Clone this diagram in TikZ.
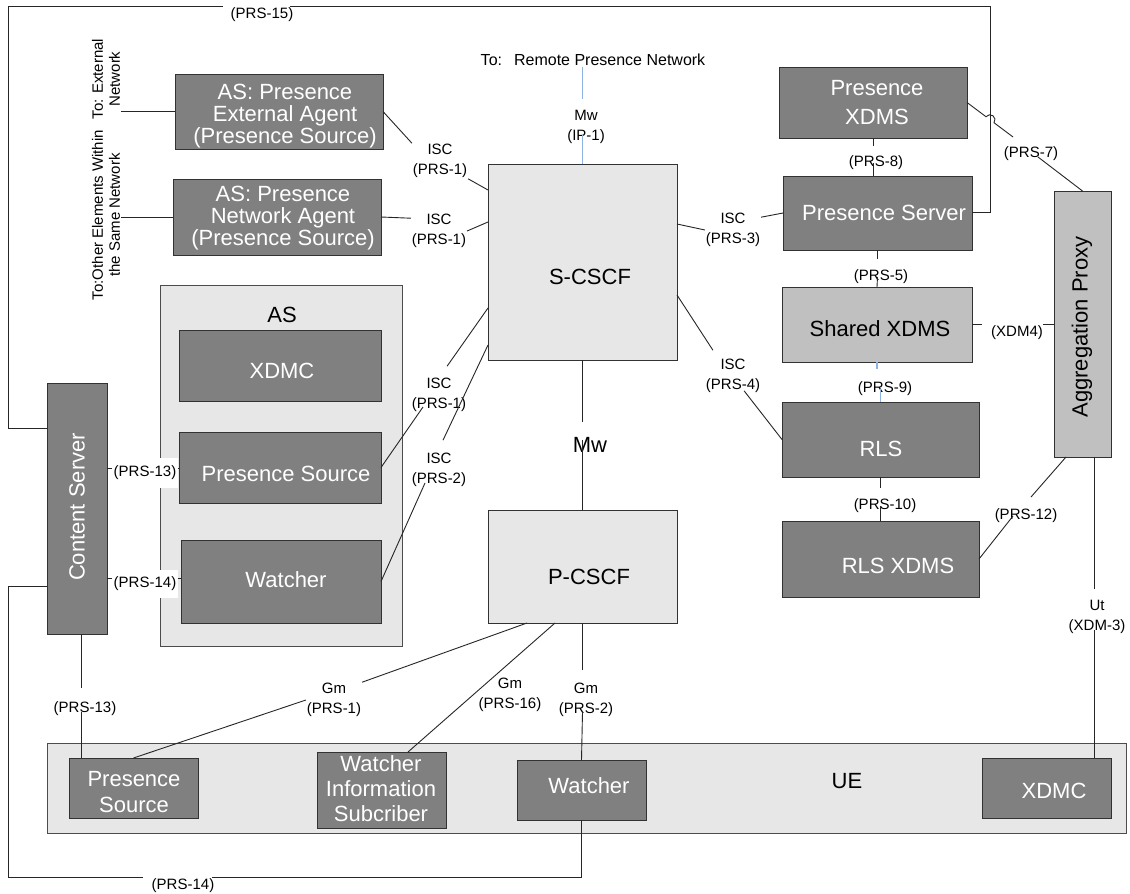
\documentclass[tikz,border=0pt]{standalone}
\usepackage{fontspec}
\setmainfont{Liberation Sans}
\usetikzlibrary{calc}
\definecolor{dk}{RGB}{128,128,128}
\definecolor{lt}{RGB}{231,231,231}
\definecolor{md}{RGB}{192,192,192}
\definecolor{bl}{RGB}{141,179,226}
\definecolor{edge}{RGB}{50,50,50}
\newcommand{\fbig}{\fontsize{22}{22}\selectfont}
\newcommand{\fsm}{\fontsize{15}{20}\selectfont}
\newcommand{\mkbox}[6]{\node[#2, minimum width={(#5)-(#3)}, minimum height={(#6)-(#4)}] (#1) at ({((#3)+(#5))/2},{((#4)+(#6))/2}) {};}
\begin{document}
\begin{tikzpicture}[x=1pt,y=-1pt,
  every node/.style={inner sep=0pt, outer sep=0pt},
  dkbox/.style={draw=edge, line width=1pt, fill=dk},
  ltbox/.style={draw=edge, line width=1pt, fill=lt},
  mdbox/.style={draw=edge, line width=1pt, fill=md},
  cont/.style={draw=black!70, line width=1pt, fill=lt},
  wt/.style={text=white, font=\fbig, align=center},
  bt/.style={text=black, font=\fbig, align=center},
  lbl/.style={font=\fsm, align=center, inner sep=1pt},
  ln/.style={draw=black!85, line width=0.9pt},
  bln/.style={draw=bl, line width=1.2pt},
]
\fill[white] (0,0) rectangle (1130,894);
\useasboundingbox (0,0) rectangle (1130,894);

% containers
\mkbox{as}{cont}{160}{285}{402}{646}
\mkbox{ue}{cont}{47}{743}{1126}{833}
% boxes
\mkbox{extag}{dkbox}{175}{74}{383}{149}
\mkbox{netag}{dkbox}{173}{179}{381}{255}
\mkbox{axdmc}{dkbox}{179}{330}{381}{401}
\mkbox{asps}{dkbox}{179}{432}{381}{503}
\mkbox{awatch}{dkbox}{181}{540}{381}{623}
\mkbox{cs}{dkbox}{47}{383}{107}{634}
\mkbox{scscf}{ltbox}{488}{164}{677}{360}
\mkbox{pcscf}{ltbox}{488}{510}{677}{623}
\mkbox{pxdms}{dkbox}{779}{67}{967}{138}
\mkbox{psrv}{dkbox}{783}{176}{972}{250}
\mkbox{shxdms}{mdbox}{782}{287}{972}{362}
\mkbox{rls}{dkbox}{782}{402}{979}{477}
\mkbox{rlsx}{dkbox}{782}{521}{979}{597}
\mkbox{agg}{mdbox}{1054}{191}{1111}{457}
\mkbox{ups}{dkbox}{69}{758}{198}{818}
\mkbox{wis}{dkbox}{317}{752}{446}{828}
\mkbox{uwatch}{dkbox}{517}{760}{646}{820}
\mkbox{uxdmc}{dkbox}{982}{758}{1111}{818}

% box texts
\node[wt] (extag-t) at (285,116.4) {AS: Presence\\External Agent\\(Presence Source)};
\node[wt] (netag-t) at (283,218.4) {AS: Presence\\Network Agent\\(Presence Source)};
\node[bt,anchor=base] (as-t) at (282,322) {AS};
\node[wt,anchor=base] (axdmc-t) at (282,378) {XDMC};
\node[wt,anchor=base] (asps-t) at (286,481) {Presence Source};
\node[wt,anchor=base] (awatch-t) at (286,587) {Watcher};
\node[bt,anchor=base] (scscf-t) at (590,284) {S-CSCF};
\node[bt,anchor=base] (pcscf-t) at (589,584) {P-CSCF};
\node[wt,font=\fontsize{22}{29}\selectfont] (pxdms-t) at (877,103) {Presence\\XDMS};
\node[wt,anchor=base] (psrv-t) at (884,220) {Presence Server};
\node[bt,anchor=base] (shxdms-t) at (880,336) {Shared XDMS};
\node[wt,anchor=base] (rls-t) at (881,456) {RLS};
\node[wt,anchor=base] (rlsx-t) at (898,573) {RLS XDMS};
\node[bt,rotate=90] (agg-t) at (1082,327) {Aggregation Proxy};
\node[wt,rotate=90] (cs-t) at (77,507) {Content Server};
\node[wt,font=\fontsize{22}{26}\selectfont] (ups-t) at (134,792) {Presence\\Source};
\node[wt,font=\fontsize{22}{25}\selectfont] (wis-t) at (381,789) {Watcher\\Information\\Subcriber};
\node[wt,anchor=base] (uwatch-t) at (589,793) {Watcher};
\node[wt,anchor=base] (uxdmc-t) at (1054,798) {XDMC};
\node[bt,anchor=base] (ue-t) at (847,788) {UE};
\node[bt,anchor=base] (mw) at (590,452) {Mw};

% connector labels
\node[lbl] (L1) at (440,161) {ISC\\(PRS-1)};
\node[lbl] (L2) at (439,231) {ISC\\(PRS-1)};
\node[lbl] (L3) at (733,230) {ISC\\(PRS-3)};
\node[lbl] (L4) at (733,376) {ISC\\(PRS-4)};
\node[lbl] (LI1) at (439,395) {ISC\\(PRS-1)};
\node[lbl] (LI2) at (439,470) {ISC\\(PRS-2)};
\node[lbl] (LM) at (586,127) {Mw\\(IP-1)};
\node[lbl,font=\fontsize{16}{19}\selectfont] (rpn) at (593,60) {To:\hspace{12pt}Remote Presence Network};
\node[lbl] (L8) at (876,163) {(PRS-8)};
\node[lbl] (L5) at (881,277) {(PRS-5)};
\node[lbl] (L9) at (885,389) {(PRS-9)};
\node[lbl] (L10) at (885,506) {(PRS-10)};
\node[lbl] (L7) at (1031,154) {(PRS-7)};
\node[lbl] (LX4) at (1017,333) {(XDM4)};
\node[lbl] (L12) at (1026,516) {(PRS-12)};
\node[lbl] (LUt) at (1097,617) {Ut\\(XDM-3)};
\node[lbl] (LG1) at (334,700) {Gm\\(PRS-1)};
\node[lbl] (LG16) at (510,695) {Gm\\(PRS-16)};
\node[lbl] (LG2) at (586,700) {Gm\\(PRS-2)};
\node[lbl] (LC13) at (85,709) {(PRS-13)};
\node[lbl] (L14b) at (183,886) {(PRS-14)};
\node[lbl] (L15) at (262,15) {(PRS-15)};
\node[lbl,font=\fontsize{15}{17}\selectfont,rotate=90] (ext) at (106,79) {To: External\\Network};
\node[lbl,font=\fontsize{15}{17}\selectfont,rotate=90] (oth) at (106,215) {To:Other Elements Within\\the Same Network};

% connectors
\draw[ln] (ext.south |- extag.west) -- (extag.west);
\draw[ln] (oth.south |- netag.west) -- (netag.west);
\draw[ln] (extag.east) -- (L1.north west);
\draw[ln] (L1.south east) -- ([yshift=-26pt]scscf.north west);
\draw[ln] (netag.east) -- ([yshift=-5pt]L2.north west);
\draw[ln] (L2.east) -- ([yshift=-58pt]scscf.north west);
\draw[bln] (rpn.south -| scscf.north) -- (scscf.north |- 0,99);
\draw[bln] (scscf.north |- 0,135) -- (scscf.north);
\draw[ln] ([yshift=-60pt]scscf.north east) -- (L3.west);
\draw[ln] ([yshift=-5pt]L3.north east) -- (psrv.west);
\draw[ln] ([yshift=-131pt]scscf.north east) -- ([xshift=8pt,yshift=8pt]L4.north west);
\draw[ln] ([xshift=-17pt,yshift=3pt]L4.south east) -- (rls.west);
\draw[ln] (pxdms.south) -- ++(0,8);
\draw[ln] (pxdms.south |- L8.center) -- (pxdms.south |- psrv.north);
\draw[ln] (psrv.south) -- ++(0,9);
\draw[ln] (psrv.south |- L5.center) -- (shxdms.north);
\draw[bln] (shxdms.south) -- ++(0,7);
\draw[bln] (rls.north |- L9.center) -- (rls.north);
\draw[ln] (rls.south) -- ++(0,11);
\draw[ln] (rls.south |- L10.center) -- (rlsx.north);
\draw[ln] (shxdms.east) -- ++(10,0);
\draw[ln] (agg.west) -- ++(-11,0);
\draw[ln] (pxdms.east) -- (986,116.75) arc[start angle=143.13, end angle=-36.87, radius=5pt] -- (1013,137);
\draw[ln] ([xshift=7pt,yshift=-3pt]L7.center) -- (agg.north);
\draw[ln] ([xshift=12pt]agg.south west) -- ([xshift=5pt,yshift=11pt]L12.north);
\draw[ln] ([xshift=-13pt]L12.center) -- (rlsx.east);
\coordinate (utx) at ([xshift=11.5pt]agg.south);
\draw[ln] (utx) -- (utx |- 0,589);
\draw[ln] (utx |- 0,630) -- (utx |- uxdmc.north);
\draw[ln] (scscf.south) -- (scscf.south |- 0,422);
\draw[ln] (scscf.south |- 0,440) -- (pcscf.north);
\draw[ln] ([yshift=-144pt]scscf.north west) -- ([xshift=-20pt,yshift=11pt]LI1.north east);
\draw[ln] ([xshift=-16pt,yshift=-12pt]LI1.center) -- (asps.east);
\draw[ln] ([yshift=-181pt]scscf.north west) -- ([xshift=4pt,yshift=12pt]LI2.north);
\draw[ln] ([xshift=-14pt,yshift=-13pt]LI2.center) -- (awatch.east);
\draw[ln] (cs.east |- 0,468) -- (asps.west |- 0,468);
\draw[ln] (cs.east |- 0,578) -- (awatch.west |- 0,578);
\node[lbl, fill=white, minimum width=66pt, minimum height=30pt] (LP13) at (145,473) {(PRS-13)};
\node[lbl, fill=white, minimum width=66pt, minimum height=28pt] (LP14) at (145,584) {(PRS-14)};
\coordinate (csb) at ([xshift=4pt]cs.south);
\draw[ln] (csb) -- (csb |- 0,688);
\draw[ln] (csb |- 0,712) -- (csb |- ups.north);
\draw[ln] (cs.west |- 0,586) -- (8,586) -- (8,877) -- (143,877);
\draw[ln] (212,877) -| (uwatch.south);
\draw[ln] (cs.west |- 0,428) -| (8,6) -- (223,6);
\draw[ln] (290,6) -| (990,212) -- (psrv.east |- 0,212);
\draw[ln] ([xshift=-55.5pt]pcscf.south) -- (LG1.north east);
\draw[ln] (LG1.west) -- (ups.north);
\draw[ln] ([xshift=-27.5pt]pcscf.south) -- ([xshift=26.5pt]wis.north);
\draw[ln] (pcscf.south) -- (pcscf.south |- 0,670);
\draw[ln] (pcscf.south |- 0,712) -- (uwatch.north);
\end{tikzpicture}
\end{document}
